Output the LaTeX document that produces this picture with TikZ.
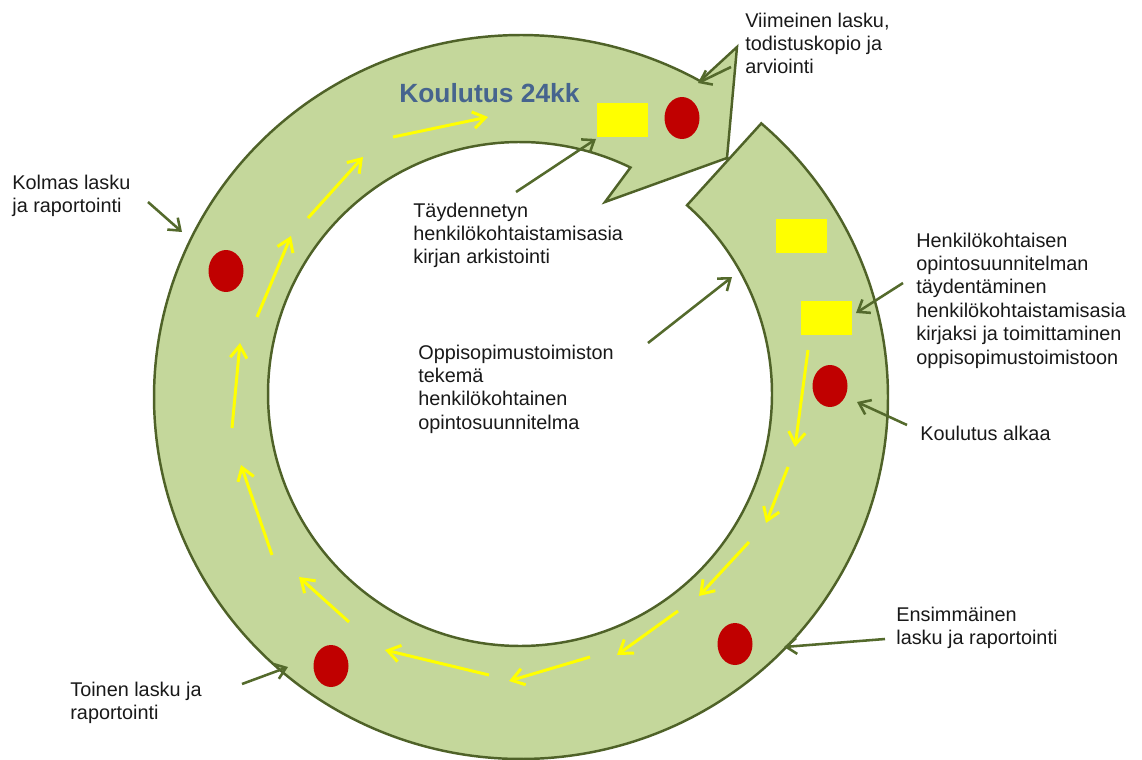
\documentclass[tikz,border=0pt]{standalone}
\usepackage{fontspec}
\setmainfont{Liberation Sans}
\usetikzlibrary{arrows.meta, shapes.geometric}

\definecolor{ringfill}{RGB}{196,215,155}
\definecolor{ringline}{RGB}{79,98,40}
\definecolor{callout}{RGB}{84,106,44}
\definecolor{dotred}{RGB}{192,0,0}
\definecolor{boxyellow}{RGB}{255,255,0}
\definecolor{titleblue}{RGB}{70,100,142}
\definecolor{notetext}{RGB}{25,25,25}

\begin{document}
\begin{tikzpicture}[x=0.02cm, y=-0.02cm,
  band/.style={fill=ringfill, draw=ringline, line width=1.4pt, line join=miter},
  reddot/.style={ellipse, fill=dotred, minimum width=0.70cm, minimum height=0.84cm, inner sep=0pt},
  ybox/.style={rectangle, fill=boxyellow, minimum width=1.02cm, minimum height=0.69cm, inner sep=0pt},
  flow/.style={draw=boxyellow, line width=1.7pt, -{Straight Barb[length=7pt,width=9.5pt]}},
  pointer/.style={draw=callout, line width=1.45pt, -{Straight Barb[length=6pt,width=9pt]}},
  note/.style={anchor=north west, align=left, inner sep=0pt, text=notetext,
               font=\fontsize{11.3}{13.3}\selectfont},
]
\useasboundingbox (0,0) rectangle (1142,760);

% circular band with arrowhead (clockwise)
\draw[band]
  plot[domain=49.1:-299.2, samples=300] ({521+367*cos(\x)}, {397-362*sin(\x)})
  -- (737,47) -- (727,158) -- (605,202)
  -- plot[domain=64:408.5, samples=300] ({520+252*cos(\x)}, {394-252*sin(\x)})
  -- cycle;

% yellow flow arrows along the band
\foreach \sx/\sy/\ex/\ey in {808/350/795/447, 788/467/766/523, 749/542/699/596,
    678/611/617/655, 590/657/509/681, 489/675/385/650, 349/622/299/577,
    272/555/241/465, 232/428/240/343, 257/317/291/236, 308/218/363/157,
    393/137/488/117}
  \draw[flow] (\sx,\sy) -- (\ex,\ey);

% milestones
\node[reddot] (final)  at (682,118) {};
\node[reddot] (third)  at (226,271) {};
\node[reddot] (start)  at (830,386) {};
\node[reddot] (first)  at (735,644) {};
\node[reddot] (second) at (331,666) {};

\node[ybox] (archive)  at (622,120) {};
\node[ybox] (plan)     at (801,236) {};
\node[ybox] (complete) at (826,318) {};

% title
\node[anchor=base west, inner sep=0pt, text=titleblue,
      font=\fontsize{15}{18}\selectfont\bfseries] (title) at (399,103) {Koulutus 24kk};

% labels
\node[note] (tFinal) at (745,12.5) {Viimeinen lasku,\\todistuskopio ja\\arviointi};
\node[note] (tArchive) at (413,202.5) {Täydennetyn\\henkilökohtaistamisasia\\kirjan arkistointi};
\node[note] (tThird) at (12,174.5) {Kolmas lasku\\ja raportointi};
\node[note] (tComplete) at (916,232.5) {Henkilökohtaisen\\opintosuunnitelman\\täydentäminen\\henkilökohtaistamisasia\\kirjaksi ja toimittaminen\\oppisopimustoimistoon};
\node[note] (tPlan) at (418,344.5) {Oppisopimustoimiston\\tekemä\\henkilökohtainen\\opintosuunnitelma};
\node[note] (tStart) at (920,425.5) {Koulutus alkaa};
\node[note] (tFirst) at (896,606.5) {Ensimmäinen\\lasku ja raportointi};
\node[note] (tSecond) at (70,681.5) {Toinen lasku ja\\raportointi};

% pointer ends
\coordinate (pFinalA) at (731,67);   \coordinate (pFinalB) at (698,83);
\coordinate (pThirdA) at (148,202);  \coordinate (pThirdB) at (182,232);
\coordinate (pArchA) at (516,192);   \coordinate (pArchB) at (596,139);
\coordinate (pPlanA) at (648,343);   \coordinate (pPlanB) at (732,277);
\coordinate (pCompA) at (903,283);   \coordinate (pCompB) at (856,313);
\coordinate (pStartA) at (907,425);  \coordinate (pStartB) at (857,402);
\coordinate (pFirstA) at (885,639);  \coordinate (pFirstB) at (784,647);
\coordinate (pSecA) at (242,684);    \coordinate (pSecB) at (288,667);

\draw[pointer] (pFinalA) -- (pFinalB);
\draw[pointer] (pThirdA) -- (pThirdB);
\draw[pointer] (pArchA) -- (pArchB);
\draw[pointer] (pPlanA) -- (pPlanB);
\draw[pointer] (pCompA) -- (pCompB);
\draw[pointer] (pStartA) -- (pStartB);
\draw[pointer] (pFirstA) -- (pFirstB);
\draw[pointer] (pSecA) -- (pSecB);
\end{tikzpicture}
\end{document}
